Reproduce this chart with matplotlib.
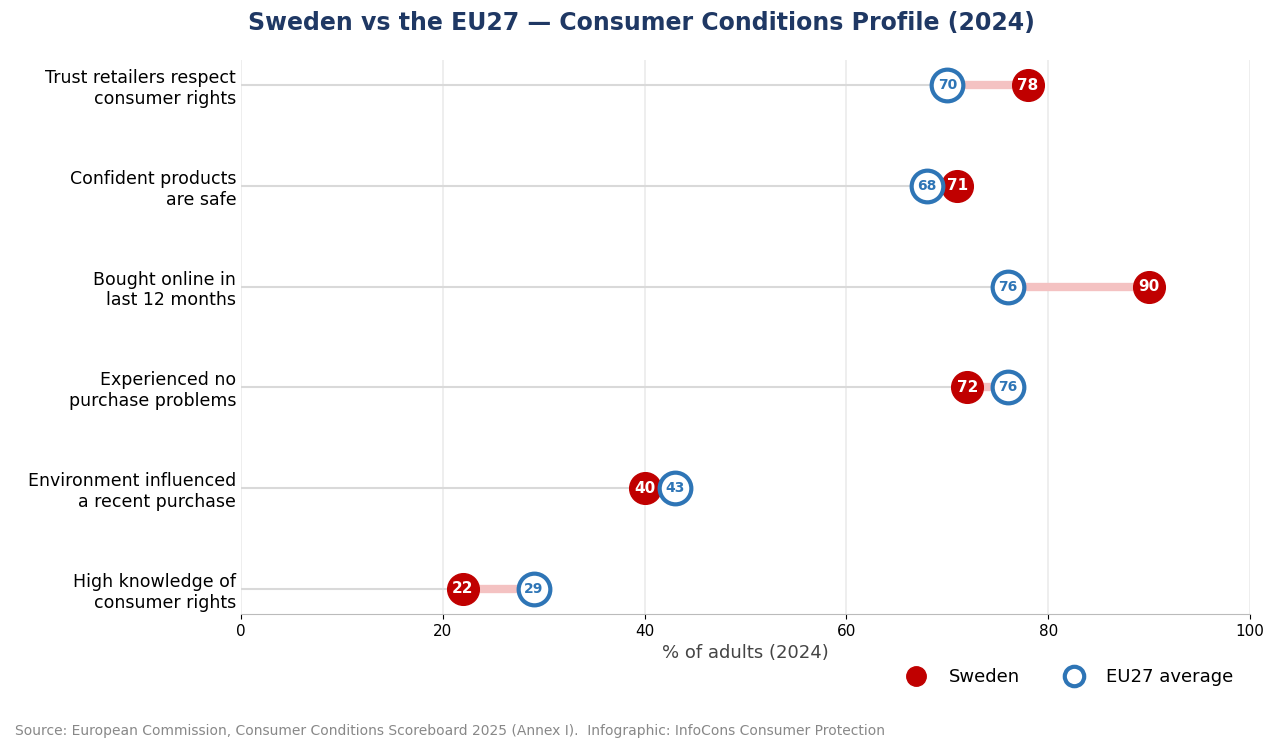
import numpy as np
import matplotlib.pyplot as plt
from matplotlib.lines import Line2D

labels = ["Trust retailers respect\nconsumer rights",
          "Confident products\nare safe",
          "Bought online in\nlast 12 months",
          "Experienced no\npurchase problems",
          "Environment influenced\na recent purchase",
          "High knowledge of\nconsumer rights"]
sweden = [78, 71, 90, 72, 40, 22]
eu27 = [70, 68, 76, 76, 43, 29]

red = "#c00000"
blue = "#2e75b6"

fig = plt.figure(figsize=(12.82, 7.53), dpi=100)
ax = fig.add_axes([241 / 1282, 1 - 614 / 753, 1009 / 1282, 554 / 753])

y = np.arange(len(labels))[::-1]
for yi, s, e in zip(y, sweden, eu27):
    lo, hi = min(s, e), max(s, e)
    ax.plot([0, lo], [yi, yi], color="#d9d9d9", lw=1.5, zorder=1)
    ax.plot([lo, hi], [yi, yi], color="#f4c2c2", lw=6, solid_capstyle="butt", zorder=2)
    ax.scatter(s, yi, s=520, color=red, zorder=3)
    ax.scatter(e, yi, s=520, facecolor="white", edgecolor=blue, linewidth=3, zorder=3)
    ax.text(s, yi, str(s), color="white", ha="center", va="center",
            fontsize=11, fontweight="bold", zorder=4)
    ax.text(e, yi, str(e), color=blue, ha="center", va="center",
            fontsize=10, fontweight="bold", zorder=4)

ax.set_xlim(0, 100)
ax.set_ylim(-0.25, 5.25)
ax.set_yticks(y)
ax.set_yticklabels(labels, fontsize=12.5)
ax.tick_params(axis="y", length=0)
ax.tick_params(axis="x", labelsize=11)
ax.set_xticks([0, 20, 40, 60, 80, 100])
ax.grid(axis="x", color="#ebebeb", lw=1.2)
ax.set_axisbelow(True)
for sp in ["top", "right", "left"]:
    ax.spines[sp].set_visible(False)
ax.spines["bottom"].set_color("#bbbbbb")
ax.set_xlabel("% of adults (2024)", fontsize=13, color="#444444")

fig.suptitle("Sweden vs the EU27 \u2014 Consumer Conditions Profile (2024)",
             x=0.5, y=0.985, fontsize=17, fontweight="bold", color="#1f3864")

handles = [Line2D([], [], marker="o", ls="", color=red, markersize=14),
           Line2D([], [], marker="o", ls="", markerfacecolor="white",
                  markeredgecolor=blue, markeredgewidth=3, markersize=14)]
fig.legend(handles, ["Sweden", "EU27 average"], loc="center right",
           bbox_to_anchor=(0.975, 1 - 677 / 753), ncol=2, frameon=False,
           fontsize=13, columnspacing=2)

fig.text(15 / 1282, 1 - 731 / 753,
         "Source: European Commission, Consumer Conditions Scoreboard 2025 (Annex I).  Infographic: InfoCons Consumer Protection",
         fontsize=10, color="#888888", va="center")

fig.savefig("out.png", dpi=100)
